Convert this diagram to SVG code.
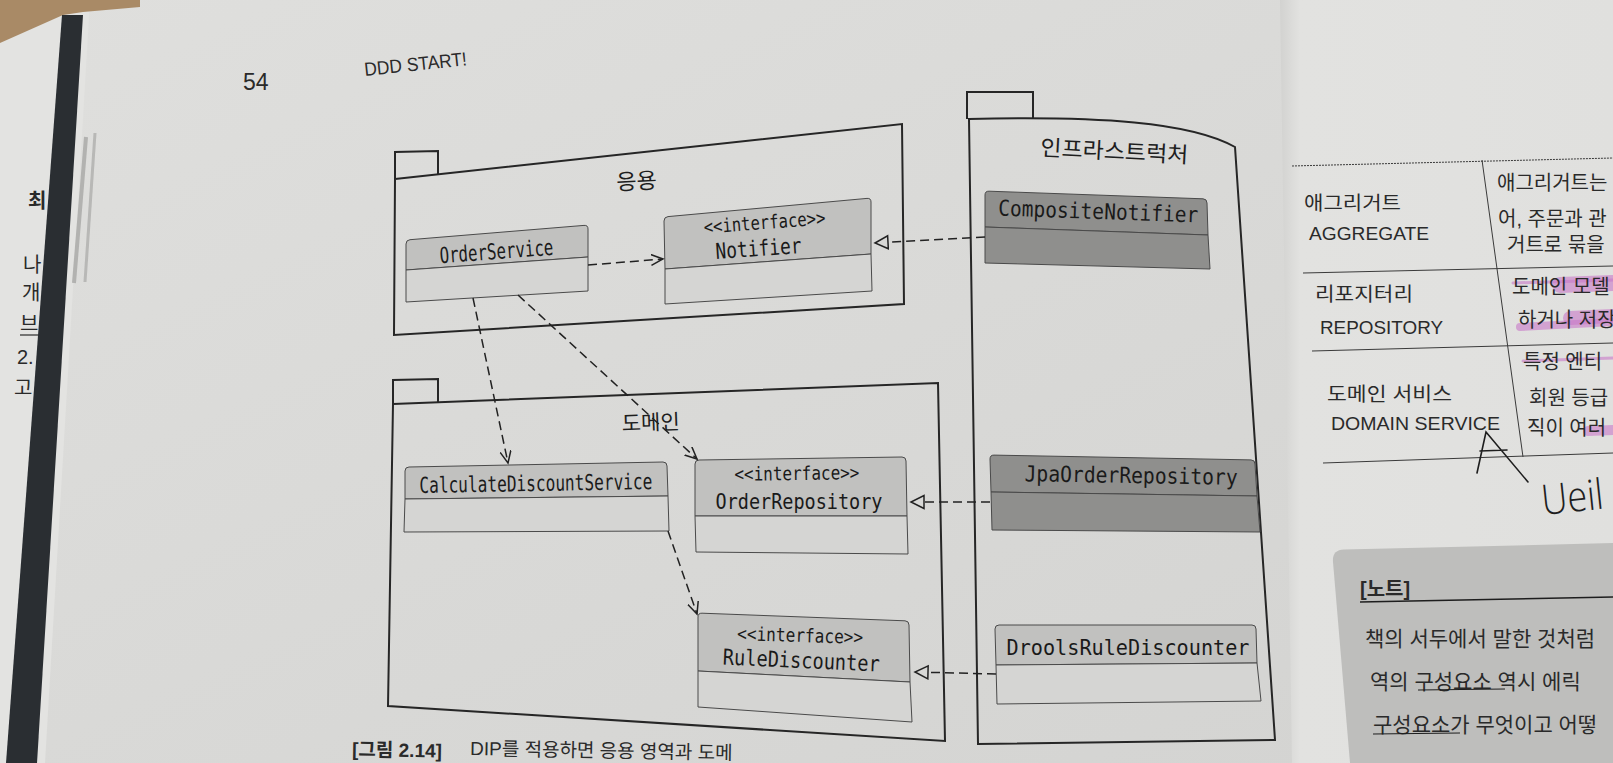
<svg xmlns="http://www.w3.org/2000/svg" width="1613" height="763" viewBox="0 0 1613 763">
<defs>
  <linearGradient id="pageL" x1="0" y1="0" x2="1" y2="1">
    <stop offset="0" stop-color="#dfdfdd"/>
    <stop offset="1" stop-color="#d3d3d1"/>
  </linearGradient>
  <linearGradient id="pageR" x1="0" y1="0" x2="1" y2="0">
    <stop offset="0" stop-color="#d2d2d0"/>
    <stop offset="0.06" stop-color="#e2e2e0"/>
    <stop offset="1" stop-color="#e0e0de"/>
  </linearGradient>
  <marker id="open" markerUnits="userSpaceOnUse" markerWidth="16" markerHeight="14" refX="12" refY="6" orient="auto">
    <path d="M0,0.5 L12,6 L0,11.5" fill="none" stroke="#222" stroke-width="1.5"/>
  </marker>
  <marker id="tri" markerUnits="userSpaceOnUse" markerWidth="18" markerHeight="18" refX="14" refY="7.5" orient="auto">
    <path d="M1,1 L14,7.5 L1,14 Z" fill="#d8d8d6" stroke="#222" stroke-width="1.5"/>
  </marker>
</defs>
<style>
  .pkg{fill:none;stroke:#262626;stroke-width:2}
  .hdr{fill:#c1c1bf;stroke:#4a4a4a;stroke-width:1}
  .body{fill:#d5d5d3;stroke:#4a4a4a;stroke-width:1}
  .dark{fill:#8f8f8d;stroke:#4a4a4a;stroke-width:1}
  .cls{font-family:"DejaVu Sans Mono","Liberation Mono",monospace;font-size:22px;fill:#1a1a1a;text-anchor:middle}
  .st{font-size:19px}
  .kr{font-family:"Noto Sans CJK KR",sans-serif;fill:#1e1e1e}
  .dep{fill:none;stroke:#222;stroke-width:1.5;stroke-dasharray:9 5}
  .pg{font-family:"Liberation Sans","Noto Sans CJK KR",sans-serif;fill:#2a2a2a}
  .tl{stroke:#3a3a3a;stroke-width:1;fill:none}
  .pink{stroke:#c878c8;stroke-opacity:0.6;fill:none;stroke-linecap:round}
</style>

<!-- page background -->
<rect x="0" y="0" width="1613" height="763" fill="url(#pageL)"/>
<polygon points="1280,0 1613,0 1613,763 1292,763" fill="url(#pageR)"/>
<polygon points="0,0 90,0 45,763 0,763" fill="#e3e3e1"/>

<!-- left page fragments -->
<g class="pg" font-size="20">
  <text x="28" y="208" font-weight="bold">최</text>
  <text x="23" y="272">나</text>
  <text x="22" y="300">개</text>
  <text x="20" y="331">브</text>
  <line x1="20" y1="335" x2="42" y2="335" stroke="#2a2a2a" stroke-width="1.2"/>
  <text x="17" y="364">2.</text>
  <text x="14" y="395">고</text>
</g>
<polygon points="0,0 140,0 140,7 83,12 63,15 0,43" fill="#a98a66"/>
<polygon points="62,15 83,15 37,763 6,763" fill="#2a2e32"/>
<line x1="86" y1="137" x2="74" y2="283" stroke="#b2b2b0" stroke-width="4"/>
<line x1="95" y1="133" x2="85" y2="282" stroke="#b8b8b6" stroke-width="3"/>

<!-- header -->
<text class="pg" x="243" y="90" font-size="23">54</text>
<text class="pg" x="365" y="76" font-size="19" textLength="103" lengthAdjust="spacingAndGlyphs" transform="rotate(-6 365 76)">DDD START!</text>

<!-- packages -->
<g id="pkg-app">
  <path class="pkg" d="M395,179 L395,152 L438,151 L438,174"/>
  <polygon class="pkg" points="395,179 902,124 904,304 394,335"/>
  <text class="kr" x="637" y="189" font-size="22" text-anchor="middle" transform="rotate(-3 637 189)">응용</text>
</g>
<g id="pkg-domain">
  <path class="pkg" d="M393,404 L393,380 L438,379 L438,402"/>
  <polygon class="pkg" points="393,404 938,383 945,741 388,706"/>
  <text class="kr" x="651" y="430" font-size="21" text-anchor="middle" transform="rotate(-2 651 430)">도메인</text>
</g>
<g id="pkg-infra">
  <path class="pkg" d="M967,119 L967,92 L1033,92 L1033,119"/>
  <path class="pkg" d="M969,119 C1100,116 1190,122 1235,147 L1275,740 L978,744 Z"/>
  <text class="kr" x="1114" y="159" font-size="22" text-anchor="middle" textLength="148" lengthAdjust="spacingAndGlyphs" transform="rotate(3 1114 159)">인프라스트럭처</text>
</g>

<!-- classes -->
<g id="OrderService">
  <path class="hdr" d="M406,270 L406,244 Q406,240 410,239.7 L584,225.4 Q588,225 588,229 L588,257 Z" fill="#bcbcba"/>
  <path class="body" d="M406,270 L588,257 L588,291 L406,302 Z"/>
  <text class="cls" x="497" y="259" textLength="114" lengthAdjust="spacingAndGlyphs" transform="rotate(-4.3 497 259)">OrderService</text>
</g>
<g id="Notifier">
  <path class="hdr" d="M665,269 L664,221 Q664,217 668,216.6 L867,198.4 Q871,198 871,202 L871,254 Z"/>
  <path class="body" d="M665,269 L871,254 L872,291 L665,304 Z"/>
  <text class="cls st" x="765" y="229" textLength="122" lengthAdjust="spacingAndGlyphs" transform="rotate(-4.5 765 229)">&lt;&lt;interface&gt;&gt;</text>
  <text class="cls" x="759" y="256" textLength="86" lengthAdjust="spacingAndGlyphs" transform="rotate(-4 759 256)">Notifier</text>
</g>
<g id="CalculateDiscountService">
  <path class="hdr" d="M405,499 L405,471 Q405,467 409,467 L663,462 Q667,462 667,466 L668,496 Z" fill="#bfbfbd"/>
  <path class="body" d="M405,499 L668,496 L669,531 L404,532 Z"/>
  <text class="cls" x="536" y="491" textLength="233" lengthAdjust="spacingAndGlyphs" transform="rotate(-1 536 491)">CalculateDiscountService</text>
</g>
<g id="OrderRepository">
  <path class="hdr" d="M695,516 L695,464 Q695,460 699,460 L902,457 Q906,457 906,461 L907,516 Z"/>
  <path class="body" d="M695,516 L907,516 L908,554 L696,552 Z"/>
  <text class="cls st" x="797" y="480" textLength="125" lengthAdjust="spacingAndGlyphs" transform="rotate(-0.8 797 480)">&lt;&lt;interface&gt;&gt;</text>
  <text class="cls" x="799" y="509" textLength="167" lengthAdjust="spacingAndGlyphs">OrderRepository</text>
</g>
<g id="RuleDiscounter">
  <path class="hdr" d="M698,671 L698,617 Q698,613 702,613.2 L905,620.8 Q909,621 909,625 L910,682 Z"/>
  <path class="body" d="M698,671 L910,682 L912,722 L698,707 Z"/>
  <text class="cls st" x="800" y="642" textLength="126" lengthAdjust="spacingAndGlyphs" transform="rotate(1.5 800 642)">&lt;&lt;interface&gt;&gt;</text>
  <text class="cls" x="801" y="668" textLength="157" lengthAdjust="spacingAndGlyphs" transform="rotate(2.5 801 668)">RuleDiscounter</text>
</g>
<g id="CompositeNotifier">
  <path class="dark" d="M985,227 L985,195 Q985,191 989,191.2 L1203,198.8 Q1207,199 1207,203 L1208,235 Z"/>
  <path class="dark" d="M985,227 L1208,235 L1210,269 L985,263 Z" fill="#8a8a88"/>
  <text class="cls" x="1098" y="219" font-size="23" fill="#262626" textLength="200" lengthAdjust="spacingAndGlyphs" transform="rotate(2 1098 219)">CompositeNotifier</text>
</g>
<g id="JpaOrderRepository">
  <path class="dark" d="M991,492 L990,459 Q990,455 994,455.1 L1251,459.9 Q1255,460 1255,464 L1257,496 Z"/>
  <path class="dark" d="M991,492 L1257,496 L1260,532 L992,530 Z" fill="#8a8a88"/>
  <text class="cls" x="1131" y="483" font-size="23" fill="#262626" textLength="213" lengthAdjust="spacingAndGlyphs" transform="rotate(1 1131 483)">JpaOrderRepository</text>
</g>
<g id="DroolsRuleDiscounter">
  <path class="hdr" d="M996,665 L995,629 Q995,625 999,625 L1252,625 Q1256,625 1256,629 L1257,663 Z" fill="#c4c4c2"/>
  <path class="body" d="M996,665 L1257,663 L1261,701 L997,704 Z"/>
  <text class="cls" x="1128" y="655" font-size="23" textLength="243" lengthAdjust="spacingAndGlyphs">DroolsRuleDiscounter</text>
</g>

<!-- connectors -->
<g id="connectors">
  <line class="dep" x1="588" y1="265" x2="663" y2="259" marker-end="url(#open)"/>
  <line class="dep" x1="473" y1="298" x2="508" y2="463" marker-end="url(#open)"/>
  <line class="dep" x1="518" y1="295" x2="697" y2="459" marker-end="url(#open)"/>
  <line class="dep" x1="668" y1="531" x2="697" y2="614" marker-end="url(#open)"/>
  <line class="dep" x1="985" y1="237" x2="875" y2="243" marker-end="url(#tri)"/>
  <line class="dep" x1="990" y1="502" x2="911" y2="502" marker-end="url(#tri)"/>
  <line class="dep" x1="996" y1="674" x2="915" y2="672" marker-end="url(#tri)"/>
</g>

<!-- right page: table -->
<g id="table">
  <line class="tl" x1="1292" y1="166" x2="1613" y2="158" stroke="#777" stroke-dasharray="2 1"/>
  <line class="tl" x1="1482" y1="160" x2="1523" y2="457"/>
  <line class="tl" x1="1303" y1="273" x2="1613" y2="266"/>
  <line class="tl" x1="1312" y1="351" x2="1613" y2="343"/>
  <line class="tl" x1="1323" y1="463" x2="1613" y2="453" stroke="#1e1e1e" stroke-width="2"/>
  <g class="pg" font-size="19">
    <text x="1304" y="210" textLength="97" lengthAdjust="spacingAndGlyphs">애그리거트</text>
    <text x="1309" y="240" font-size="18" textLength="120" lengthAdjust="spacingAndGlyphs">AGGREGATE</text>
    <text x="1315" y="301" textLength="98" lengthAdjust="spacingAndGlyphs">리포지터리</text>
    <text x="1320" y="334" font-size="18" textLength="123" lengthAdjust="spacingAndGlyphs">REPOSITORY</text>
    <text x="1327" y="401" textLength="125" lengthAdjust="spacingAndGlyphs">도메인 서비스</text>
    <text x="1331" y="430" font-size="18" textLength="169" lengthAdjust="spacingAndGlyphs">DOMAIN SERVICE</text>
  </g>
  <path class="pink" d="M1560,285 L1613,283" stroke-width="16"/>
  <path class="pink" d="M1513,283 L1613,280" stroke-width="3"/>
  <path class="pink" d="M1520,327 L1613,322" stroke-width="8"/>
  <path class="pink" d="M1570,318 L1613,316" stroke-width="14"/>
  <path class="pink" d="M1523,361 L1613,358" stroke-width="3"/>
  <path class="pink" d="M1588,431 L1613,430" stroke-width="10"/>
  <g class="pg" font-size="20">
    <text x="1497" y="190">애그리거트는</text>
    <text x="1498" y="226">어, 주문과 관</text>
    <text x="1507" y="252">거트로 묶을</text>
    <text x="1512" y="294">도메인 모델</text>
    <text x="1518" y="327">하거나 저장</text>
    <text x="1523" y="369">특정 엔티</text>
    <text x="1529" y="405">회원 등급</text>
    <text x="1527" y="435">직이 여러</text>
  </g>
  <path d="M1477,473 L1486,432 L1528,482 M1480,451 L1507,450" fill="none" stroke="#1e1e1e" stroke-width="1.6" stroke-linecap="round"/>
  <text x="1543" y="515" font-family="Open Sans, sans-serif" font-weight="300" font-size="42" fill="#1e1e1e" textLength="62" lengthAdjust="spacingAndGlyphs" transform="rotate(-6 1543 515)">Ueil</text>
</g>

<!-- right page: note box -->
<g id="note">
  <path d="M1333,562 Q1332,550 1344,549.6 L1613,543 L1613,763 L1350,763 Z" fill="#bebebc"/>
  <text class="pg" x="1360" y="596" font-size="20" font-weight="bold">[노트]</text>
  <line x1="1360" y1="602" x2="1613" y2="597" stroke="#1e1e1e" stroke-width="1.5"/>
  <g class="pg" font-size="21">
    <text x="1365" y="646">책의 서두에서 말한 것처럼</text>
    <text x="1370" y="689">역의 구성요소 역시 에릭</text>
    <text x="1373" y="732">구성요소가 무엇이고 어떻</text>
  </g>
  <line x1="1418" y1="690" x2="1505" y2="689" stroke="#1e1e1e" stroke-width="1.2"/>
  <line x1="1373" y1="734" x2="1460" y2="733" stroke="#1e1e1e" stroke-width="1.2"/>
</g>

<!-- caption -->
<text class="pg" x="352" y="756" font-size="19" font-weight="bold" transform="rotate(1 352 756)">[그림 2.14]</text>
<text class="pg" x="470" y="755" font-size="19" transform="rotate(1 470 755)">DIP를 적용하면 응용 영역과 도메</text>
</svg>
